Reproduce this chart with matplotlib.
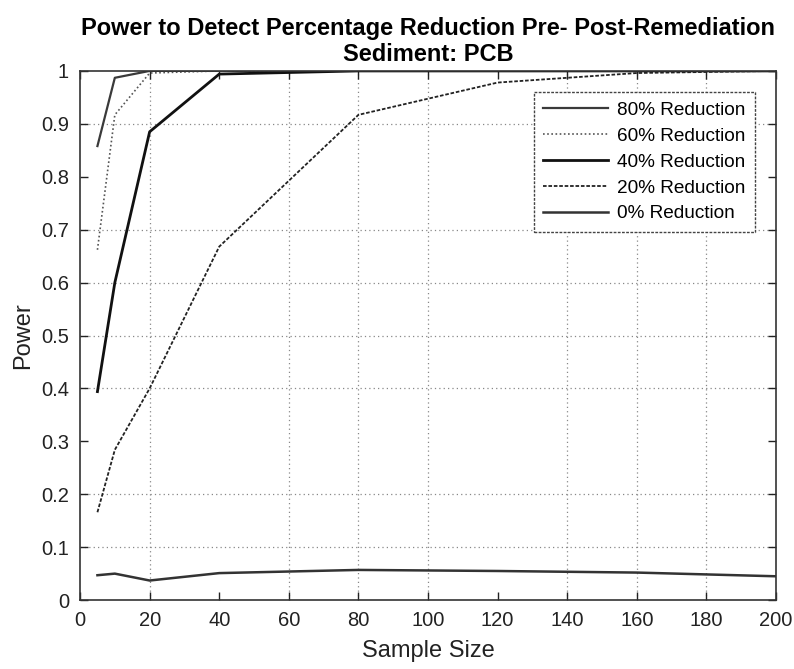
import matplotlib.pyplot as plt
import numpy as np

plt.rcParams['font.family'] = ['Liberation Sans', 'DejaVu Sans']

# sample sizes and power values
n = [5, 10, 20, 40, 80, 120, 160, 200]
red80 = [0.858, 0.987, 1.0, 1.0, 1.0, 1.0, 1.0, 1.0]
red60 = [0.662, 0.917, 0.996, 1.0, 1.0, 1.0, 1.0, 1.0]
red40 = [0.394, 0.600, 0.885, 0.994, 1.0, 1.0, 1.0, 1.0]
red20 = [0.166, 0.284, 0.400, 0.668, 0.917, 0.978, 0.996, 1.0]
red0 = [0.047, 0.050, 0.037, 0.051, 0.057, 0.055, 0.052, 0.045]
labels = ['80% Reduction', '60% Reduction', '40% Reduction',
          '20% Reduction', '0% Reduction']

# grid lines that survive in the scanned figure
xgrid = [20, 60, 80, 100, 140, 160, 180]
ygrid = [0.1, 0.2, 0.4, 0.5, 0.6, 0.7, 0.9]

fig = plt.figure(figsize=(7.94, 6.69), dpi=100)
ax = fig.add_axes([0.1008, 0.103, 0.8766, 0.791])

for xg in xgrid:
    ax.axvline(xg, color='#888888', lw=0.9, ls=(0, (1, 2.5)), zorder=0)
for yg in ygrid:
    ax.axhline(yg, color='#888888', lw=0.9, ls=(0, (1, 2.5)), zorder=0)

ax.plot(n, red80, color='#3a3a3a', lw=1.6, ls='-', label=labels[0])
ax.plot(n, red60, color='#555555', lw=1.2, ls=(0, (1, 1.5)), label=labels[1])
ax.plot(n, red40, color='#111111', lw=2.0, ls='-', label=labels[2])
ax.plot(n, red20, color='#222222', lw=1.3, ls=(0, (2, 1)), label=labels[3])
ax.plot(n, red0, color='#333333', lw=1.8, ls='-', label=labels[4])

ax.set_xlim(0, 200)
ax.set_ylim(0, 1)
ax.set_xticks(np.arange(0, 201, 20))
ax.set_yticks(np.arange(0, 1.01, 0.1))
ax.set_yticklabels(['0', '0.1', '0.2', '0.3', '0.4', '0.5', '0.6', '0.7',
                    '0.8', '0.9', '1'])
ax.tick_params(direction='in', top=True, right=True, length=6, width=1,
               labelsize=14.5, colors='#222222', pad=8)
for sp in ax.spines.values():
    sp.set_color('#333333')
    sp.set_linewidth(1.2)

ax.set_xlabel('Sample Size', fontsize=17, color='#222222', labelpad=7)
ax.set_ylabel('Power', fontsize=17, color='#222222', labelpad=5)
ax.set_title('Power to Detect Percentage Reduction Pre- Post-Remediation\nSediment: PCB',
             fontsize=17, fontweight='bold', linespacing=1.2, pad=7)

leg = ax.legend(loc='upper right', bbox_to_anchor=(0.970, 0.960), fontsize=13.7,
                handlelength=3.4, handletextpad=0.5, labelspacing=0.45,
                borderpad=0.5, borderaxespad=0,
                fancybox=False, framealpha=1, edgecolor='#444444')
leg.get_frame().set_linewidth(1.0)
leg.get_frame().set_linestyle((0, (2, 1)))

fig.savefig('out.png', dpi=100)
